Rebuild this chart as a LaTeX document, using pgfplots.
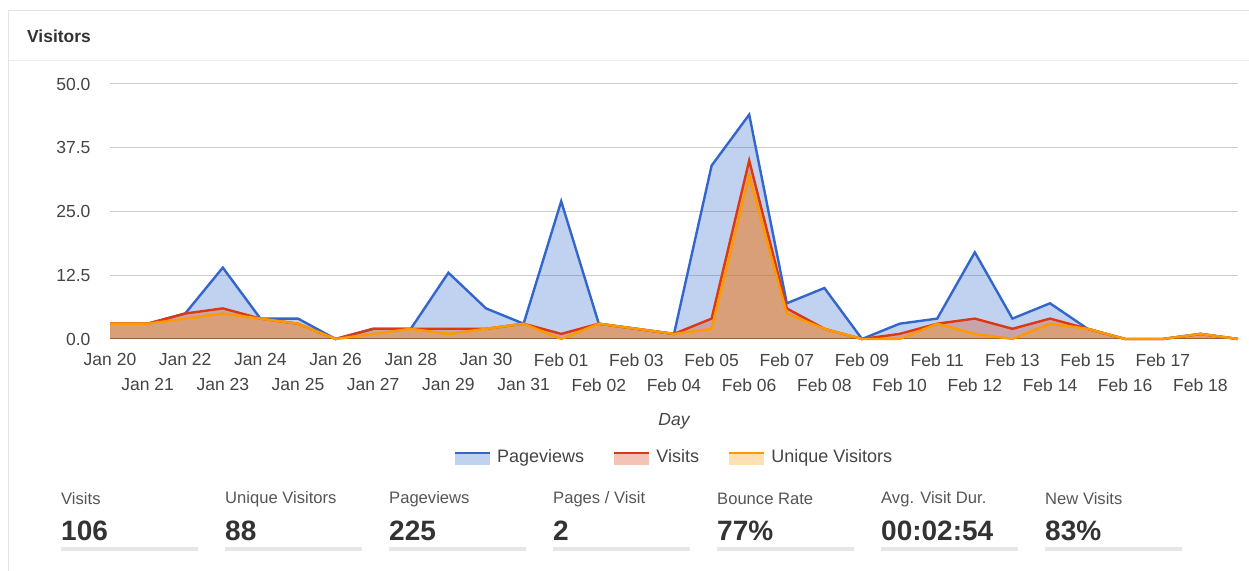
\documentclass[border=0pt]{standalone}
\usepackage{fontspec}
\setmainfont{Liberation Sans}
\usepackage{pgfplots}
\pgfplotsset{compat=1.18}
\usepackage{pgfplotstable}
\definecolor{pv}{HTML}{3366CC}
\definecolor{vi}{HTML}{DC3912}
\definecolor{uv}{HTML}{FF9900}
\definecolor{tickgray}{HTML}{444444}
\definecolor{labgray}{HTML}{555555}
\definecolor{valgray}{HTML}{333333}
\definecolor{gridgray}{HTML}{CCCCCC}
\definecolor{cardborder}{HTML}{E3E3E3}
\definecolor{bargray}{HTML}{E6E6E6}

\pgfplotstableread{
x pv vi uv
0 3 3 3
1 3 3 3
2 5 5 4
3 14 6 5
4 4 4 4
5 4 3 3
6 0 0 0
7 2 2 1
8 2 2 2
9 13 2 1
10 6 2 2
11 3 3 3
12 27 1 0
13 3 3 3
14 2 2 2
15 1 1 1
16 34 4 2
17 44 35 32
18 7 6 5
19 10 2 2
20 0 0 0
21 3 1 0
22 4 3 3
23 17 4 1
24 4 2 0
25 7 4 3
26 2 2 2
27 0 0 0
28 0 0 0
29 1 1 1
30 0 0 0
}\datatable

\newcommand{\stat}[3]{%
  \node[anchor=west, inner sep=0pt, font=\fontsize{16.6}{19}\selectfont, text=labgray] at (#1pt,71pt) {#2};
  \node[anchor=west, inner sep=0pt, font=\fontsize{28}{32}\selectfont\bfseries, text=valgray] at (#1pt,39pt) {#3};
  \fill[bargray] (#1pt,19pt) rectangle ++(137pt,4pt);
}
\newcommand{\legimg}[1]{%
  \fill[#1, fill opacity=0.3] (0pt,-8pt) rectangle (35pt,4pt);
  \draw[#1, line width=2.5pt] (0pt,4pt) -- (35pt,4pt);
  \path (40pt,0pt);
}

\begin{document}
\begin{tikzpicture}
\path[use as bounding box] (0pt,0pt) rectangle (1249pt,570pt);
\draw[cardborder, line width=1.6pt] (8.5pt,-2pt) -- (8.5pt,559.5pt) -- (1252pt,559.5pt);
\draw[cardborder!60, line width=1pt] (9pt,509pt) -- (1249pt,509pt);
\node[anchor=west, inner sep=0pt, font=\fontsize{17.4}{20}\selectfont\bfseries, text=valgray] at (27pt,534pt) {Visitors};

\begin{axis}[
  at={(110pt,231pt)}, anchor=south west,
  x=37.6pt, y=5.1pt,
  xmin=0, xmax=30, ymin=0, ymax=50,
  enlargelimits=false,
  clip=false,
  axis x line=bottom, axis y line=left,
  x axis line style={-, draw=tickgray, line width=1pt},
  y axis line style={draw=none},
  major tick length=0pt,
  ymajorgrids, grid style={gridgray, line width=1pt},
  ytick={0,12.5,25,37.5,50},
  yticklabel style={/pgf/number format/.cd, fixed, fixed zerofill, precision=1, /tikz/.cd, anchor=east, xshift=-16pt},
  /pgf/number format/assume math mode=true,
  tick label style={font=\fontsize{17.5}{20}\selectfont, text=tickgray},
  xtick={0,2,...,28},
  xticklabels={Jan 20,Jan 22,Jan 24,Jan 26,Jan 28,Jan 30,Feb 01,Feb 03,Feb 05,Feb 07,Feb 09,Feb 11,Feb 13,Feb 15,Feb 17},
  xticklabel style={yshift=-11pt},
  extra x ticks={1,3,...,29},
  extra x tick labels={Jan 21,Jan 23,Jan 25,Jan 27,Jan 29,Jan 31,Feb 02,Feb 04,Feb 06,Feb 08,Feb 10,Feb 12,Feb 14,Feb 16,Feb 18},
  extra x tick style={xticklabel style={yshift=-25pt}},
  xlabel={Day},
  xlabel style={at={(0.5,-0.322)}, anchor=center, font=\fontsize{17.5}{20}\selectfont\itshape, text=tickgray},
  legend style={at={(0.5,-0.463)}, anchor=center, draw=none, fill=none,
    legend columns=3, font=\fontsize{18}{20}\selectfont, text=tickgray,
    /tikz/every even column/.append style={column sep=27pt}},
]
\addplot[draw=none, fill=pv, fill opacity=0.3, legend image code/.code={\legimg{pv}}] table[x=x,y=pv]{\datatable} \closedcycle;
\addlegendentry{Pageviews}
\addplot[draw=none, fill=vi, fill opacity=0.3, legend image code/.code={\legimg{vi}}] table[x=x,y=vi]{\datatable} \closedcycle;
\addlegendentry{Visits}
\addplot[draw=none, fill=uv, fill opacity=0.3, legend image code/.code={\legimg{uv}}] table[x=x,y=uv]{\datatable} \closedcycle;
\addlegendentry{Unique Visitors}
\addplot[forget plot, draw=pv, line width=2.4pt, mark=none] table[x=x,y=pv]{\datatable};
\addplot[forget plot, draw=vi, line width=2.4pt, mark=none] table[x=x,y=vi]{\datatable};
\addplot[forget plot, draw=uv, line width=2.4pt, mark=none] table[x=x,y=uv]{\datatable};
\end{axis}

\stat{61}{Visits}{106}
\stat{225}{Unique Visitors}{88}
\stat{389}{Pageviews}{225}
\stat{553}{Pages / Visit}{2}
\stat{717}{Bounce Rate}{77\%}
\stat{881}{Avg. Visit Dur.}{00:02:54}
\stat{1045}{New Visits}{83\%}
\end{tikzpicture}
\end{document}
